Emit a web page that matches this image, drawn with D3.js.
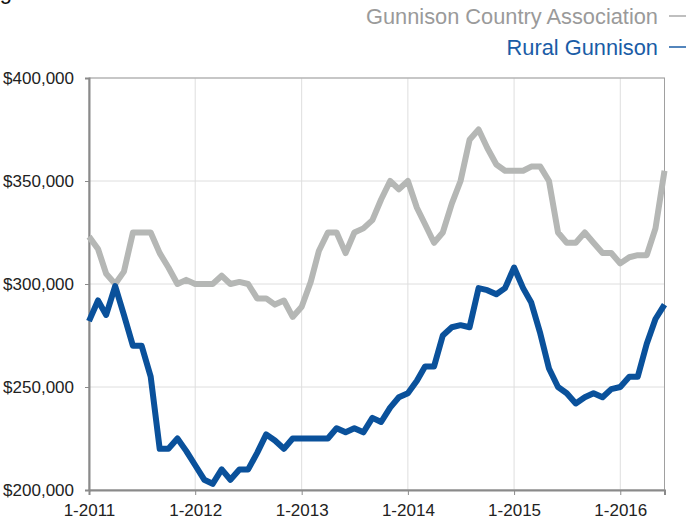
<!DOCTYPE html>
<html>
<head>
<meta charset="utf-8">
<script src="https://cdn.jsdelivr.net/npm/d3@7"></script>
<style>
  body { margin: 0; background: #fff; }
  svg { display: block; font-family: "Liberation Sans", Arial, Helvetica, sans-serif; }
</style>
</head>
<body>
<div id="chart"></div>
<script>
const width = 689
const height = 519
const margin = { top: 78, right: 24.5, bottom: 29, left: 89 }

// monthly values, 1-2011 .. 6-2016
const startYear = 2011
const seriesNames = ["Gunnison Country Association", "Rural Gunnison"]
const countryValues = [
  323, 317, 305, 300, 306, 325, 325, 325, 315, 308, 300, 302,
  300, 300, 300, 304, 300, 301, 300, 293, 293, 290, 292, 284,
  289, 301, 316, 325, 325, 315, 325, 327, 331, 341, 350, 346,
  350, 337, 329, 320, 325, 339, 350, 370, 375, 366, 358, 355,
  355, 355, 357, 357, 350, 325, 320, 320, 325, 320, 315, 315,
  310, 313, 314, 314, 327, 355
]
const ruralValues = [
  282, 292, 285, 299, 285, 270, 270, 255, 220, 220, 225, 219,
  212, 205, 203, 210, 205, 210, 210, 218, 227, 224, 220, 225,
  225, 225, 225, 225, 230, 228, 230, 228, 235, 233, 240, 245,
  247, 253, 260, 260, 275, 279, 280, 279, 298, 297, 295, 298,
  308, 298, 291, 276, 259, 250, 247, 242, 245, 247, 245, 249,
  250, 255, 255, 271, 283, 290
]
const yTicks = [200000, 250000, 300000, 350000, 400000]
const xTickYears = [2011, 2012, 2013, 2014, 2015, 2016]
const colors = ["#b5b7b5", "#0a519b"]
const legendColors = ["#9a9a9a", "#1a5ca6"]

const months = countryValues.map((d, i) => new Date(startYear, i, 1))
const series = [countryValues, ruralValues].map((vals, k) => ({
  name: seriesNames[k],
  color: colors[k],
  values: vals.map((v, i) => ({ date: months[i], value: v * 1000 }))
}))

const svg = d3.select("#chart").append("svg").attr("width", width).attr("height", height)

const x = d3.scaleTime()
  .domain([months[0], months[months.length - 1]])
  .range([margin.left, width - margin.right])
const y = d3.scaleLinear()
  .domain([200000, 400000])
  .range([height - margin.bottom, margin.top])

const fmt = d3.format("$,")

// grid
const grid = svg.append("g")
grid.selectAll(".gy").data(yTicks).join("line")
  .attr("x1", margin.left).attr("x2", width - margin.right)
  .attr("y1", d => y(d)).attr("y2", d => y(d))
  .attr("stroke", "#dedede").attr("stroke-width", 1)
grid.selectAll(".gx").data(xTickYears).join("line")
  .attr("x1", d => x(new Date(d, 0, 1))).attr("x2", d => x(new Date(d, 0, 1)))
  .attr("y1", margin.top).attr("y2", height - margin.bottom)
  .attr("stroke", "#dedede").attr("stroke-width", 1)

// frame
svg.append("rect")
  .attr("x", margin.left).attr("y", margin.top)
  .attr("width", width - margin.left - margin.right)
  .attr("height", height - margin.top - margin.bottom)
  .attr("fill", "none").attr("stroke", "#a0a0a0").attr("stroke-width", 1)

// axes
const yAxis = svg.append("g")
  .attr("transform", `translate(${margin.left},0)`)
  .call(d3.axisLeft(y).tickValues(yTicks).tickFormat(fmt).tickSize(4).tickPadding(11))
const xAxis = svg.append("g")
  .attr("transform", `translate(0,${height - margin.bottom})`)
  .call(d3.axisBottom(x).tickValues(xTickYears.map(d => new Date(d, 0, 1)))
    .tickFormat(d => "1-" + d.getFullYear()).tickSize(5).tickPadding(9))
;[yAxis, xAxis].forEach(a => {
  a.select(".domain").attr("stroke", "#8a8a8a").attr("stroke-width", 2)
  a.selectAll(".tick line").attr("stroke", "#8a8a8a")
  a.selectAll("text").attr("font-size", 17).attr("fill", "#222")
    .attr("font-family", "'Liberation Sans', Arial, sans-serif")
})

// lines
const line = d3.line().x(d => x(d.date)).y(d => y(d.value))
svg.append("g").selectAll("path").data(series).join("path")
  .attr("d", d => line(d.values))
  .attr("fill", "none")
  .attr("stroke", d => d.color)
  .attr("stroke-width", 6)
  .attr("stroke-linejoin", "round")

// legend
const legend = svg.append("g")
seriesNames.forEach((name, k) => {
  const ly = 24 + k * 31
  legend.append("text")
    .attr("x", 658).attr("y", ly)
    .attr("text-anchor", "end")
    .attr("font-size", 21.8)
    .attr("fill", legendColors[k])
    .text(name)
  legend.append("line")
    .attr("x1", 669).attr("x2", 686)
    .attr("y1", ly - 8).attr("y2", ly - 8)
    .attr("stroke", k === 0 ? "#aaa" : legendColors[k]).attr("stroke-width", 1.5)
})

// title (cut off at top edge)
svg.append("text")
  .attr("x", 12).attr("y", -1)
  .attr("text-anchor", "end")
  .attr("font-size", 22)
  .attr("fill", "#111")
  .text("Sales Pricing")
</script>
</body>
</html>
